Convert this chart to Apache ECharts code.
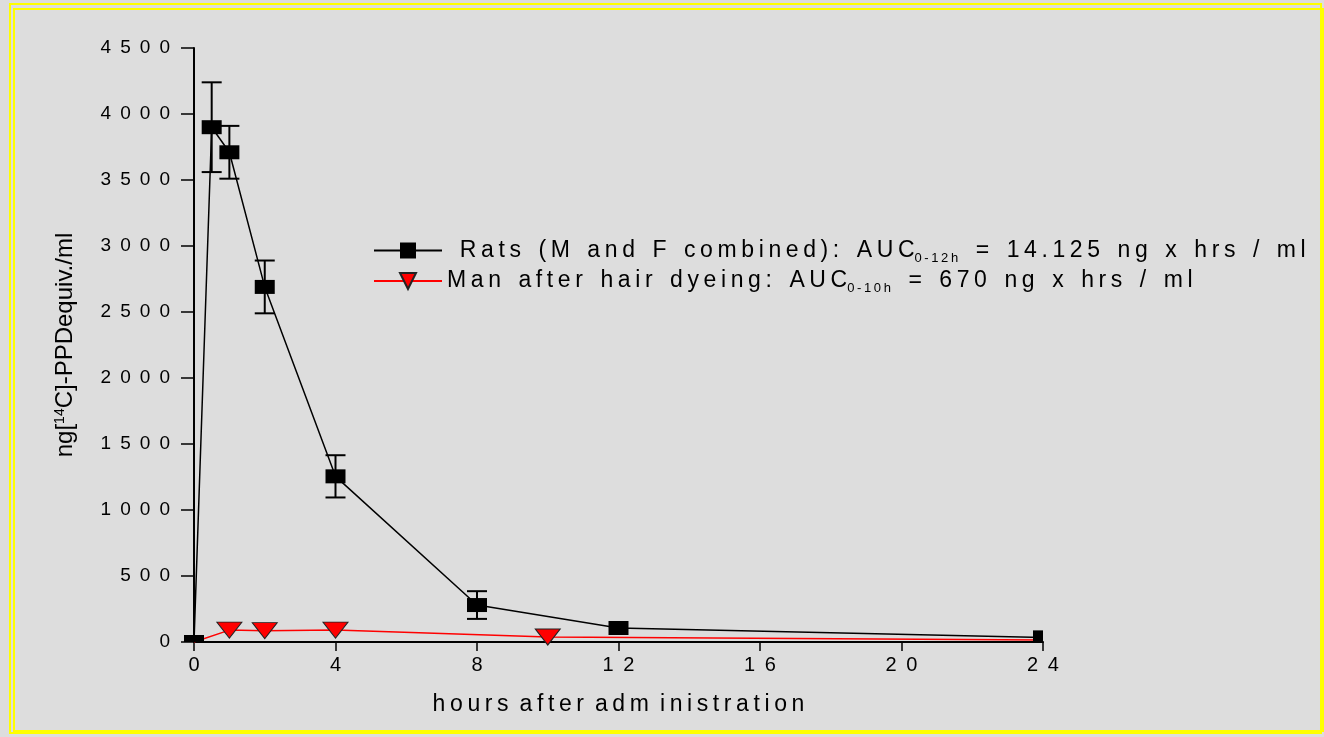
<!DOCTYPE html>
<html><head><meta charset="utf-8">
<script src="https://cdn.jsdelivr.net/npm/echarts@6/dist/echarts.min.js"></script>
<style>
html,body{margin:0;padding:0;background:#dddddd;}
#frame{position:absolute;left:9px;top:3px;width:1313px;height:731px;border:2px solid #ffff00;box-sizing:border-box;}
#frame2{position:absolute;left:13px;top:8px;width:1311px;height:724px;border:2px solid #ffff00;box-sizing:border-box;}
#main{position:absolute;left:0;top:0;width:1324px;height:737px;}
</style></head>
<body>
<div id="main"></div>
<div id="frame"></div>
<div id="frame2"></div>
<script>
// ---- data ----
const ratHours = [0, 0.5, 1, 2, 4, 8, 12, 24];
const ratValues = [0, 3900, 3710, 2690, 1255, 280, 106, 35];
const ratErrors = [0, 340, 200, 200, 160, 105, 0, 0];
const manHours = [0, 1, 2, 4, 10, 24];
const manValues = [0, 90, 86, 90, 38, 15];
const manHiddenMarkers = [0, 24];
const xTicks = [0, 4, 8, 12, 16, 20, 24];
const yTicks = [0, 500, 1000, 1500, 2000, 2500, 3000, 3500, 4000, 4500];
const ratName = 'Rats';
const manName = 'Man';
const ratLegend = ['Rats (M and F combined): AUC', '0-12h', '= 14.125 ng x hrs / ml'];
const manLegend = ['Man after hair dyeing: AUC', '0-10h', '= 670 ng x hrs / ml'];
const xName = 'hours after adm inistration';

const LS = ' \u2009';            // letter spacing for tick labels
const spacedTick = s => String(s).split('').join(LS);
const spacedText = (s, ls, ws) => s.split(' ').map(w => w.split('').join(ls)).join(ws);

const chart = echarts.init(document.getElementById('main'), null, {renderer: 'canvas'});
const font = 'Liberation Sans, Arial, sans-serif';
const ratLine = ratHours.map((h, i) => ({value: [h, ratValues[i]], symbol: 'none'}));
const ratMarks = ratHours.map((h, i) => [h, ratValues[i]]);
const manData = manHours.map((h, i) => ({value: [h, manValues[i]], symbol: manHiddenMarkers.includes(h) ? 'none' : 'triangle'}));
const errData = ratHours.map((h, i) => [h, ratValues[i] - ratErrors[i], ratValues[i] + ratErrors[i], ratErrors[i]]).filter(d => d[3] > 0);

const legLS = '\u2009', legWS = ' \u2009\u2009\u200A';
const legendFmt = parts => '{t|' + spacedText(parts[0], legLS, legWS) + '}{b|' + spacedText(parts[1], legLS, legWS) + '}{t|' + legWS + spacedText(parts[2], legLS, legWS) + '}';

chart.setOption({
  backgroundColor: 'transparent',
  animation: false,
  grid: {left: 194, right: 281, top: 48, bottom: 95, containLabel: false},
  xAxis: {
    type: 'value', min: 0, max: 24, interval: 4,
    axisLine: {onZero: false, lineStyle: {color: '#000', width: 2}},
    axisTick: {show: true, length: 9, lineStyle: {color: '#000', width: 1.5}},
    splitLine: {show: false},
    axisLabel: {color: '#000', fontSize: 20, fontFamily: font, margin: 13, formatter: v => spacedTick(v)},
    name: spacedText(xName, '\u2009', ' \u2009'),
    nameLocation: 'middle', nameGap: 51,
    nameTextStyle: {color: '#000', fontSize: 23, fontFamily: font}
  },
  yAxis: {
    type: 'value', min: 0, max: 4500, interval: 500,
    axisLine: {show: true, lineStyle: {color: '#000', width: 2}},
    axisTick: {show: true, length: 13, lineStyle: {color: '#000', width: 1.5}},
    splitLine: {show: false},
    axisLabel: {color: '#000', fontSize: 19, fontFamily: font, margin: 24, formatter: v => spacedTick(v)},
    name: '{n|ng[}{s|14}{n|C]-PPDequiv./ml}',
    nameLocation: 'middle', nameGap: 117, nameRotate: 90,
    nameTextStyle: {color: '#000', fontFamily: font, rich: {
      n: {fontSize: 24, fontFamily: font, color: '#000'},
      s: {fontSize: 14, fontFamily: font, color: '#000', verticalAlign: 'top', padding: [0,0,9,0]}
    }}
  },
  legend: {
    orient: 'vertical', left: 373, top: 239, itemGap: 5,
    itemWidth: 68, itemHeight: 20, padding: 0,
    data: [ratName, manName],
    textStyle: {color: '#000', fontSize: 23, fontFamily: font, rich: {
      t: {fontSize: 23, fontFamily: font, color: '#000'},
      b: {fontSize: 13, fontFamily: font, color: '#000', padding: [15, 0, 0, 0]}
    }},
    formatter: name => name === ratName ? '  ' + legendFmt(ratLegend) : legendFmt(manLegend)
  },
  series: [
    {
      name: ratName, type: 'line', data: ratLine, z: 3,
      lineStyle: {color: '#000', width: 1.5},
      itemStyle: {color: '#000', borderColor: '#000'},
      symbol: 'rect', symbolSize: [20, 14], showAllSymbol: true
    },
    {
      name: manName, type: 'line', data: manData, z: 2,
      lineStyle: {color: '#ff0000', width: 1.5},
      itemStyle: {color: '#ff0000', borderColor: '#222', borderWidth: 1},
      symbol: 'triangle', symbolRotate: 180, symbolSize: [25, 16], showAllSymbol: true
    },
    {
      type: 'custom', data: errData, z: 4, silent: true,
      renderItem: (params, api) => {
        const x = api.value(0);
        const lo = api.coord([x, api.value(1)]);
        const hi = api.coord([x, api.value(2)]);
        const w = 10;
        const st = {stroke: '#000', lineWidth: 2};
        return {type: 'group', children: [
          {type: 'line', shape: {x1: lo[0], y1: lo[1], x2: hi[0], y2: hi[1]}, style: st},
          {type: 'line', shape: {x1: lo[0]-w, y1: lo[1], x2: lo[0]+w, y2: lo[1]}, style: st},
          {type: 'line', shape: {x1: hi[0]-w, y1: hi[1], x2: hi[0]+w, y2: hi[1]}, style: st}
        ]};
      }
    },
    {
      type: 'custom', data: ratMarks, z: 5, silent: true,
      renderItem: (params, api) => {
        const c = api.coord([api.value(0), api.value(1)]);
        const cs = params.coordSys;
        const x0 = c[0] - 10, x1 = Math.min(c[0] + 10, cs.x + cs.width);
        const y0 = c[1] - 7, y1 = Math.min(c[1] + 7, cs.y + cs.height);
        return {type: 'rect', shape: {x: x0, y: y0, width: x1 - x0, height: y1 - y0}, style: {fill: '#000'}};
      }
    }
  ]
});
</script>
</body></html>
